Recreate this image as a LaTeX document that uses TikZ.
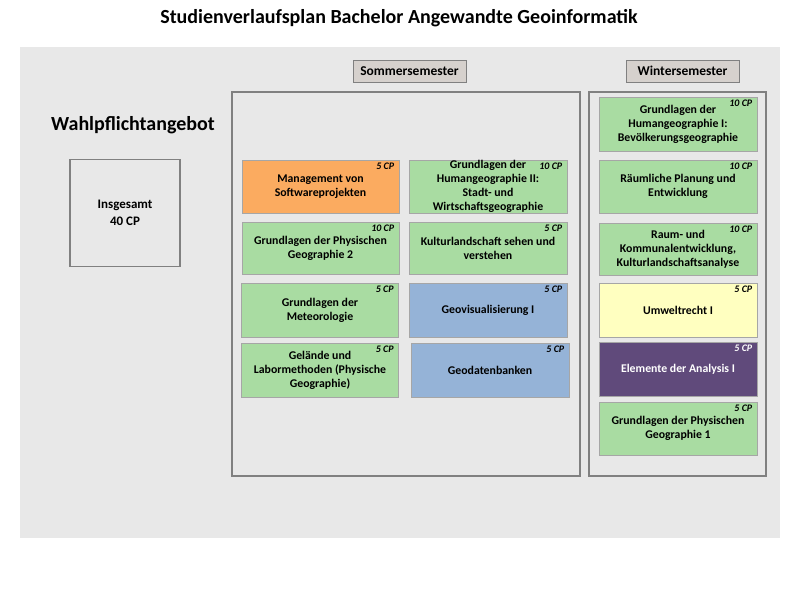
\documentclass[tikz,border=0pt]{standalone}
\usepackage{fontspec}
\setmainfont{Carlito}
\definecolor{bg}{HTML}{E8E8E8}
\definecolor{cgreen}{HTML}{A9DCA2}
\definecolor{corange}{HTML}{FBAB60}
\definecolor{cblue}{HTML}{95B3D7}
\definecolor{cyellow}{HTML}{FFFFC0}
\definecolor{cpurple}{HTML}{604A7B}
\definecolor{boxline}{HTML}{A6A6A6}
\definecolor{frameline}{HTML}{808080}
\definecolor{labfill}{HTML}{D6D1CD}
\begin{document}
\begin{tikzpicture}[x=1pt,y=-1pt,
  course/.style={draw=boxline, line width=0.9pt, align=center, inner sep=0pt,
    font=\bfseries\fontsize{11.8}{13.9}\selectfont, text=black},
  cp/.style={anchor=north east, inner sep=2pt, xshift=-3pt, yshift=-1pt,
    font=\bfseries\itshape\fontsize{10}{11}\selectfont},
  frame/.style={draw=frameline, line width=1.6pt},
  semlabel/.style={draw=frameline, fill=labfill, line width=0.9pt, minimum width=113pt,
    minimum height=22pt, inner sep=0pt, font=\bfseries\fontsize{13.5}{15}\selectfont}]
\useasboundingbox[fill=white] (0,0) rectangle (800,600);
\node[inner sep=0pt, font=\bfseries\fontsize{20}{24}\selectfont] (title) at (399,18) {Studienverlaufsplan Bachelor Angewandte Geoinformatik};
\fill[bg] (20,47) rectangle (780,538);
\node[semlabel] (sommer) at (409.5,71) {Sommersemester};
\node[semlabel] (winter) at (682.5,71) {Wintersemester};
\draw[frame] (232,92) rectangle (580,476);
\draw[frame] (589,92) rectangle (766,476);
\node[inner sep=0pt, font=\bfseries\fontsize{20}{24}\selectfont] (wpf) at (133,125) {Wahlpflichtangebot};
\node[draw=frameline, line width=1.3pt, minimum width=110pt, minimum height=107pt, inner sep=0pt,
  align=center, font=\bfseries\fontsize{13}{17}\selectfont] (total) at (125,213) {Insgesamt\\40 CP};
% Sommersemester
\node[course, fill=corange, minimum width=157pt, minimum height=53pt] (s1) at (320.5,186.5) {Management von\\Softwareprojekten};
\node[cp] (s1cp) at (s1.north east) {5 CP};
\node[course, fill=cgreen, minimum width=158pt, minimum height=53pt] (s2) at (488,186.5) {Grundlagen der\\Humangeographie II:\\Stadt- und\\Wirtschaftsgeographie};
\node[cp] (s2cp) at (s2.north east) {10 CP};
\node[course, fill=cgreen, minimum width=157pt, minimum height=52pt] (s3) at (320.5,248) {Grundlagen der Physischen\\Geographie 2};
\node[cp] (s3cp) at (s3.north east) {10 CP};
\node[course, fill=cgreen, minimum width=158pt, minimum height=52pt] (s4) at (488,248) {Kulturlandschaft sehen und\\verstehen};
\node[cp] (s4cp) at (s4.north east) {5 CP};
\node[course, fill=cgreen, minimum width=157pt, minimum height=54pt] (s5) at (320,310) {Grundlagen der\\Meteorologie};
\node[cp] (s5cp) at (s5.north east) {5 CP};
\node[course, fill=cblue, minimum width=158pt, minimum height=54pt] (s6) at (488,310) {Geovisualisierung I};
\node[cp] (s6cp) at (s6.north east) {5 CP};
\node[course, fill=cgreen, minimum width=157pt, minimum height=54pt] (s7) at (320,370) {Gelände und\\Labormethoden (Physische\\Geographie)};
\node[cp] (s7cp) at (s7.north east) {5 CP};
\node[course, fill=cblue, minimum width=158pt, minimum height=54pt] (s8) at (490,370) {Geodatenbanken};
\node[cp] (s8cp) at (s8.north east) {5 CP};
% Wintersemester
\node[course, fill=cgreen, minimum width=158pt, minimum height=54pt] (w1) at (678,124) {Grundlagen der\\Humangeographie I:\\Bevölkerungsgeographie};
\node[cp] (w1cp) at (w1.north east) {10 CP};
\node[course, fill=cgreen, minimum width=158pt, minimum height=53pt] (w2) at (678,186.5) {Räumliche Planung und\\Entwicklung};
\node[cp] (w2cp) at (w2.north east) {10 CP};
\node[course, fill=cgreen, minimum width=158pt, minimum height=52pt] (w3) at (678,249) {Raum- und\\Kommunalentwicklung,\\Kulturlandschaftsanalyse};
\node[cp] (w3cp) at (w3.north east) {10 CP};
\node[course, fill=cyellow, minimum width=158pt, minimum height=54pt] (w4) at (678,310) {Umweltrecht I};
\node[cp] (w4cp) at (w4.north east) {5 CP};
\node[course, fill=cpurple, text=white, minimum width=158pt, minimum height=54pt] (w5) at (678,369) {Elemente der Analysis I};
\node[cp, text=white] (w5cp) at (w5.north east) {5 CP};
\node[course, fill=cgreen, minimum width=158pt, minimum height=53pt] (w6) at (678,428.5) {Grundlagen der Physischen\\Geographie 1};
\node[cp] (w6cp) at (w6.north east) {5 CP};
\end{tikzpicture}
\end{document}
